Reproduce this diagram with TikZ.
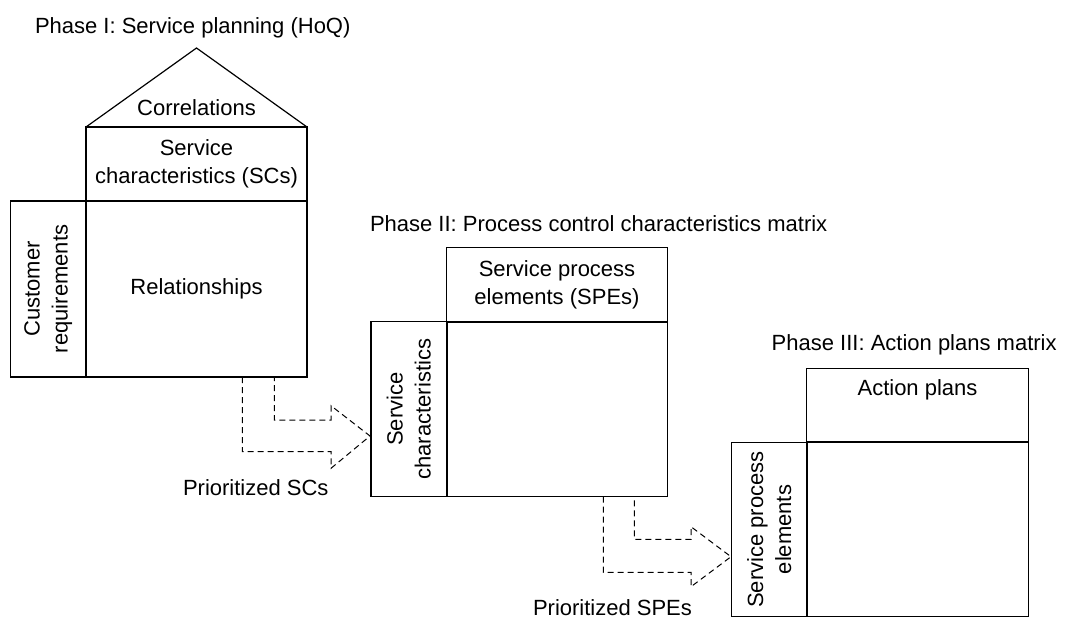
\documentclass[tikz,border=0pt]{standalone}
\usepackage{fontspec}
\setmainfont{Liberation Sans}
\usetikzlibrary{calc}
\begin{document}
\begin{tikzpicture}[x=0.5pt,y=-0.5pt,
  every node/.style={font=\fontsize{11}{14}\selectfont, inner sep=0pt, outer sep=0pt},
  cell/.style={draw, line width=0.6pt, align=center},
  sidecell/.style={draw, line width=0.6pt},
  sidetext/.style={align=center, rotate=90},
  title/.style={anchor=base west},
  flow/.style={dashed, dash pattern=on 3pt off 2pt, line width=0.5pt, line join=miter},
  sep/.style={line width=1pt}
]
\useasboundingbox (0,0) rectangle (1065,621);

% ---------- Phase I ----------
\node[title] (t1) at (35,33) {Phase I: Service planning (HoQ)};
\node[cell, minimum width=110.5pt, minimum height=37pt] (sc1) at (196.5,164) {Service\\characteristics (SCs)};
\node[cell, minimum width=110.5pt, minimum height=88pt] (rel) at (196.5,289) {Relationships};
\node[sidecell, minimum width=37.65pt, minimum height=88pt] (cr) at (48.35,289) {};
\node[sidetext] (crt) at (cr.center) {Customer\\requirements};
\coordinate (apex) at (196.5,48);
\draw[line width=0.6pt] (sc1.north west) -- (apex) -- (sc1.north east);
\node (corr) at (196.5,108) {Correlations};
\draw[sep] (rel.north west) -- (rel.north east);
\draw[sep] (rel.north west) -- (rel.south west);

% ---------- Phase II ----------
\node[title] (t2) at (370,231.7) {Phase II: Process control characteristics matrix};
\node[cell, minimum width=110.3pt, minimum height=37pt] (spe2) at (557,284.7) {Service process\\elements (SPEs)};
\node[cell, minimum width=110.3pt, minimum height=87.5pt] (m2) at (557,409.2) {};
\node[sidecell, minimum width=37.85pt, minimum height=87.5pt] (scl2) at (408.85,409.2) {};
\node[sidetext] (scl2t) at (scl2.center) {Service\\characteristics};
\draw[sep] (m2.north west) -- (m2.north east);
\draw[sep] (m2.north west) -- (m2.south west);

% ---------- Phase III ----------
\node[title] (t3) at (771.7,350.7) {Phase III: Action plans matrix};
\node[cell, minimum width=110.8pt, minimum height=37pt] (ap) at (917.5,405.3) {Action plans\\\strut};
\node[cell, minimum width=110.8pt, minimum height=87.2pt] (m3) at (917.5,529.5) {};
\node[sidecell, minimum width=37.5pt, minimum height=87.2pt] (spel3) at (769.2,529.5) {};
\node[sidetext] (spel3t) at (spel3.center) {Service process\\elements};
\draw[sep] (m3.north west) -- (m3.north east);
\draw[sep] (m3.north west) -- (m3.south west);

% ---------- Dashed flow arrows ----------
\coordinate (a1o) at (242.3,377);
\coordinate (a1i) at (274.3,377);
\coordinate (a1tip) at (370,436);
\draw[flow] (a1o) -- (242.3,451.7) -- (331,451.7) -- (331,468.3) -- (a1tip)
  -- (331,405.7) -- (331,420) -- (274.3,420) -- (a1i);
\node[title] (p1) at (183,495) {Prioritized SCs};

\coordinate (a2o) at (603.3,496.7);
\coordinate (a2i) at (634.3,496.7);
\coordinate (a2tip) at (731,556.7);
\draw[flow] (a2o) -- (603.3,572.3) -- (691,572.3) -- (691,586.7) -- (a2tip)
  -- (691,526.7) -- (691,539.3) -- (634.3,539.3) -- (a2i);
\node[title] (p2) at (533,615) {Prioritized SPEs};
\end{tikzpicture}
\end{document}
